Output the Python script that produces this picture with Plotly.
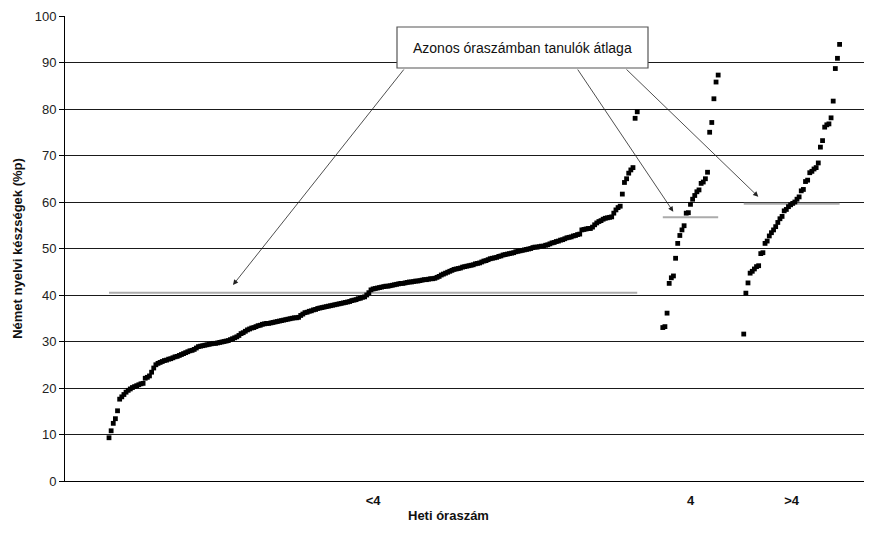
import plotly.graph_objects as go

# ---------------- data ----------------
group_labels = ["<4", "4", ">4"]

values_lt4 = [
    9.3, 10.8, 12.4, 13.4, 15.1, 17.6, 18.1, 18.6, 19.1, 19.5,
    19.8, 20.1, 20.3, 20.5, 20.7, 20.9, 21.0, 22.1, 22.3, 22.6,
    23.4, 24.3, 25.0, 25.3, 25.5, 25.7, 25.9, 26.0, 26.2, 26.3,
    26.5, 26.7, 26.8, 27.0, 27.2, 27.4, 27.6, 27.8, 28.0, 28.1,
    28.3, 28.6, 28.9, 29.0, 29.1, 29.2, 29.3, 29.4, 29.5, 29.6,
    29.6, 29.7, 29.8, 29.9, 30.0, 30.1, 30.2, 30.4, 30.6, 30.8,
    31.0, 31.3, 31.7, 31.9, 32.2, 32.5, 32.7, 32.9, 33.0, 33.2,
    33.4, 33.5, 33.7, 33.8, 33.9, 33.9, 34.0, 34.1, 34.2, 34.3,
    34.4, 34.5, 34.6, 34.7, 34.8, 34.9, 35.0, 35.1, 35.1, 35.2,
    35.6, 35.9, 36.2, 36.3, 36.5, 36.6, 36.8, 36.9, 37.1, 37.2,
    37.3, 37.4, 37.5, 37.6, 37.7, 37.8, 37.9, 38.0, 38.1, 38.2,
    38.3, 38.4, 38.5, 38.6, 38.8, 38.9, 39.0, 39.2, 39.3, 39.5,
    39.6, 40.0, 40.5, 41.1, 41.3, 41.4, 41.5, 41.6, 41.7, 41.8,
    41.9, 41.9, 42.0, 42.1, 42.2, 42.3, 42.4, 42.5, 42.5, 42.6,
    42.7, 42.8, 42.8, 42.9, 43.0, 43.0, 43.1, 43.2, 43.3, 43.3,
    43.4, 43.5, 43.5, 43.6, 43.8, 44.0, 44.3, 44.5, 44.7, 44.9,
    45.1, 45.3, 45.5, 45.6, 45.7, 45.8, 46.0, 46.1, 46.2, 46.3,
    46.4, 46.5, 46.7, 46.8, 46.9, 47.1, 47.3, 47.4, 47.6, 47.8,
    47.9, 48.0, 48.1, 48.3, 48.4, 48.6, 48.7, 48.8, 48.9, 49.0,
    49.1, 49.3, 49.4, 49.5, 49.6, 49.7, 49.8, 49.9, 50.0, 50.2,
    50.3, 50.3, 50.4, 50.5, 50.5, 50.7, 50.8, 51.0, 51.2, 51.3,
    51.5, 51.6, 51.8, 51.9, 52.1, 52.3, 52.4, 52.5, 52.7, 52.8,
    53.0, 53.1, 54.0, 54.1, 54.2, 54.3, 54.3, 54.6, 55.1, 55.5,
    55.8, 56.0, 56.3, 56.5, 56.6, 56.7, 56.8, 57.6, 58.3, 58.8,
    59.1, 61.7, 64.2, 65.0, 66.2, 66.9, 67.4, 78.0, 79.4,
]

values_eq4 = [
    33.0, 33.2, 36.1, 42.5, 43.7, 44.1, 47.9, 51.1, 52.8, 54.0,
    54.9, 57.6, 57.7, 59.5, 60.6, 61.4, 62.2, 62.6, 64.0, 64.3,
    65.0, 66.4, 75.0, 77.1, 82.2, 85.8, 87.3,
]

values_gt4 = [
    31.6, 40.4, 42.6, 44.7, 45.1, 45.6, 46.1, 46.3, 48.9, 49.1,
    51.1, 51.6, 52.7, 53.4, 54.0, 54.7, 55.6, 56.4, 56.9, 58.1,
    58.4, 59.0, 59.4, 59.7, 60.0, 60.6, 61.1, 62.4, 62.7, 64.4,
    64.7, 66.3, 66.6, 67.1, 67.4, 68.4, 71.8, 73.2, 76.1, 76.6,
    76.8, 78.1, 81.7, 88.7, 90.9, 93.9,
]

group_means = [40.5, 56.7, 59.6]

y_ticks = [0, 10, 20, 30, 40, 50, 60, 70, 80, 90, 100]

title_y = "Német nyelvi készségek (%p)"
title_x = "Heti óraszám"
callout_text = "Azonos óraszámban tanulók átlaga"

FONT = "Liberation Sans, Arial, sans-serif"

# ---------------- positions (student rank index, with empty gaps) ----------------
GAP = 11
groups = [values_lt4, values_eq4, values_gt4]
starts = []
s = 0
for g in groups:
    starts.append(s)
    s += len(g) + GAP

fig = go.Figure()

all_x, all_y = [], []
for st, g in zip(starts, groups):
    all_x += [st + i for i in range(len(g))]
    all_y += g

# mean lines
for st, g, m in zip(starts, groups, group_means):
    fig.add_trace(go.Scatter(
        x=[st, st + len(g) - 1], y=[m, m], mode="lines",
        line=dict(color="#ababab", width=2), hoverinfo="skip", showlegend=False))

fig.add_trace(go.Scatter(
    x=all_x, y=all_y, mode="markers",
    marker=dict(symbol="square", size=4.8, color="black", line=dict(width=0)),
    showlegend=False))

centers = [st + (len(g) - 1) / 2 for st, g in zip(starts, groups)]

# page body has an 8px margin; plot area shown from x=65..880, y=16..481
PL, PR, PT, PB = 65, 880, 16, 481
PW, PH = PR - PL, PB - PT
X_MIN, X_MAX = -20.66, 361.97

fig.update_layout(
    width=872, height=535,
    margin=dict(l=PL - 8, r=872 - (PR - 8), t=PT - 8, b=535 - (PB - 8)),
    paper_bgcolor="white", plot_bgcolor="white",
    font=dict(family=FONT, size=13, color="#111"),
    xaxis=dict(
        range=[X_MIN, X_MAX], showgrid=False, zeroline=False,
        tickmode="array", tickvals=centers, ticktext=group_labels,
        tickfont=dict(size=13, color="#111", family=FONT, weight="bold"),
        ticks="outside", ticklen=7, tickcolor="rgba(0,0,0,0)",
        showline=True, linecolor="black", linewidth=1,
    ),
    yaxis=dict(
        range=[0, 100], tickmode="array", tickvals=y_ticks,
        showgrid=True, gridcolor="#1a1a1a", gridwidth=1, zeroline=False,
        showline=True, linecolor="black", linewidth=1,
        ticks="outside", ticklen=5, tickcolor="black",
        tickfont=dict(size=13, color="#222"),
        title=dict(text="<b>" + title_y + "</b>", font=dict(size=13, color="#111"), standoff=9),
    ),
)

def pxp(px):
    return (px - PL) / PW
def pyp(py):
    return (PB - py) / PH

# callout box
bx0, bx1 = pxp(397), pxp(648)
by0, by1 = pyp(68), pyp(27)
fig.add_shape(type="rect", xref="paper", yref="paper", x0=bx0, x1=bx1, y0=by0, y1=by1,
              fillcolor="white", line=dict(color="#555", width=1.2), layer="above")
fig.add_annotation(xref="paper", yref="paper", x=(bx0 + bx1) / 2, y=(by0 + by1) / 2,
                   text=callout_text, showarrow=False, font=dict(size=14, color="#111"),
                   xanchor="center", yanchor="middle")

# arrows from the box to each mean line
px_per_idx = PW / (X_MAX - X_MIN)
def px_to_x(px):
    return X_MIN + (px - PL) / px_per_idx
def py_to_y(py):
    return (PB - py) / PH * 100

arrow_tails = [(405, 68), (576.7, 68), (625, 68)]
arrow_tips = [(233, 285), (673.3, 211.7), (758.3, 196.7)]
for (tx, ty), (hx, hy) in zip(arrow_tails, arrow_tips):
    fig.add_annotation(x=px_to_x(hx), y=py_to_y(hy), ax=px_to_x(tx), ay=py_to_y(ty),
                       xref="x", yref="y", axref="x", ayref="y", text="",
                       showarrow=True, arrowhead=2, arrowsize=1.3, arrowwidth=0.8,
                       arrowcolor="#222")

# x axis title
fig.add_annotation(xref="paper", yref="paper", x=pxp(448), y=pyp(516),
                   text="<b>" + title_x + "</b>", showarrow=False,
                   font=dict(size=13, color="#111"), xanchor="center", yanchor="middle")

fig.write_html("out.html")
